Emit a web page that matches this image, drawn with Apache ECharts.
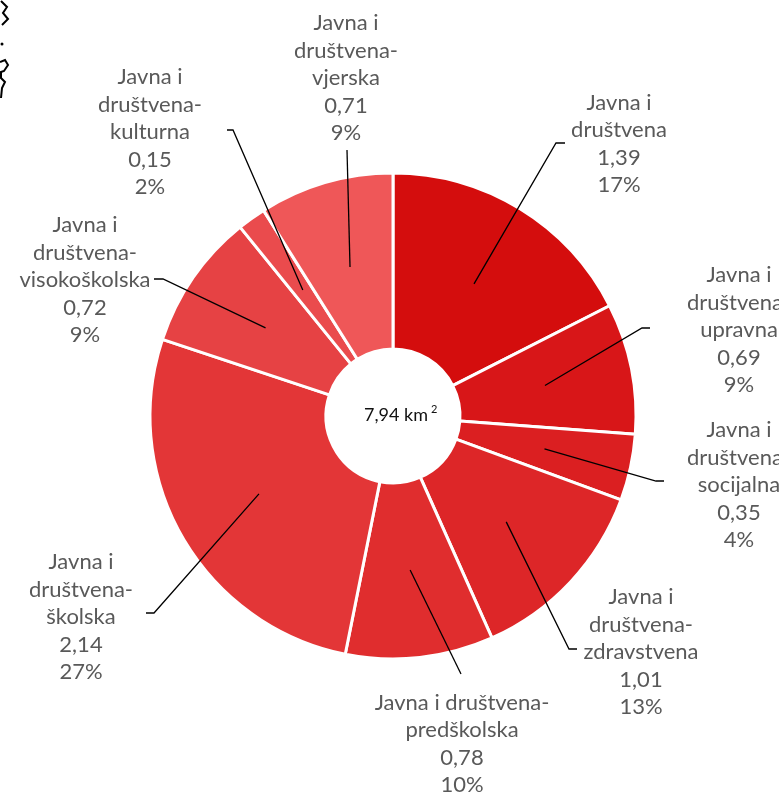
<!DOCTYPE html>
<html><head><meta charset="utf-8">
<script src="https://cdn.jsdelivr.net/npm/echarts@6/dist/echarts.min.js"></script>
<style>html,body{margin:0;padding:0;background:#fff;overflow:hidden}#c{width:779px;height:799px}</style>
</head><body><div id="c"></div>
<script>
// ---- data ----
const categories = [
  'Javna i društvena',
  'Javna i društvena-upravna',
  'Javna i društvena-socijalna',
  'Javna i društvena-zdravstvena',
  'Javna i društvena-predškolska',
  'Javna i društvena-školska',
  'Javna i društvena-visokoškolska',
  'Javna i društvena-kulturna',
  'Javna i društvena-vjerska'
];
const values = [1.39, 0.69, 0.35, 1.01, 0.78, 2.14, 0.72, 0.15, 0.71];
const unit = 'km';

// ---- style / layout ----
const colors = ['#d40d0d','#d81618','#db1f21','#dd2628','#e02d2e','#e33637','#e64244','#ea4b4d','#ef5758'];
const CX = 393, CY = 416, R0 = 67, R = 243;
const FONT = 'Lato';
// label centre (x,y), leader end (ex,ey), horizontal elbow length (bend), wrap style
const labelLayouts = [
  {x: 619, y: 144, ex: 565, ey: 143, bend: -9, wrap: 'narrow'},
  {x: 739, y: 330, ex: 650, ey: 328, bend: -8, wrap: 'narrow'},
  {x: 739, y: 485, ex: 664, ey: 481, bend: -8, wrap: 'narrow'},
  {x: 641, y: 652, ex: 577, ey: 649, bend: -8, wrap: 'narrow'},
  {x: 462, y: 744, ex: 461, ey: 674, bend: 0,  wrap: 'wide'},
  {x: 81,  y: 617, ex: 146, ey: 613, bend: 8,  wrap: 'narrow'},
  {x: 85,  y: 280, ex: 154, ey: 279, bend: 9,  wrap: 'narrow'},
  {x: 150, y: 132, ex: 227, ey: 130, bend: 6,  wrap: 'narrow'},
  {x: 346, y: 78,  ex: 347, ey: 150, bend: 0,  wrap: 'narrow'}
];

function fmtNum(v) { return v.toFixed(2).replace('.', ','); }
function wrapName(name, wrap) {
  const m = name.match(/^(Javna i) (društvena-?)(.*)$/);
  if (!m) return name;
  if (wrap === 'wide') return m[1] + ' ' + m[2] + (m[3] ? '\n' + m[3] : '');
  return m[1] + '\n' + m[2] + (m[3] ? '\n' + m[3] : '');
}

// mid angles of slices (from data) for leader line start
const total = values.reduce((a, b) => a + b, 0);
const midAngles = [];
(function () {
  let acc = 0;
  values.forEach(v => { midAngles.push((acc + v / 2) / total * 2 * Math.PI); acc += v; });
})();

const pieData = categories.map((c, i) => ({name: c, value: values[i]}));

const chart = echarts.init(document.getElementById('c'), null, {renderer: 'canvas'});
chart.setOption({
  backgroundColor: '#ffffff',
  animation: false,
  color: colors,
  series: [{
    type: 'pie',
    z: 2,
    center: [CX, CY],
    radius: [R0, R],
    startAngle: 90,
    clockwise: true,
    avoidLabelOverlap: false,
    itemStyle: {borderColor: '#ffffff', borderWidth: 3},
    emphasis: {disabled: true},
    data: pieData,
    label: {show: false},
    labelLine: {show: false}
  }, {
    // overlay carrying the labels and leader lines on top of the slices
    type: 'pie',
    z: 5,
    silent: true,
    center: [CX, CY],
    radius: [R0, R],
    startAngle: 90,
    clockwise: true,
    avoidLabelOverlap: false,
    percentPrecision: 0,
    itemStyle: {color: 'rgba(0,0,0,0)', borderWidth: 0},
    emphasis: {disabled: true},
    data: pieData,
    label: {
      show: true,
      position: 'outside',
      width: 260,
      overflow: 'none',
      color: '#595959',
      fontFamily: FONT,
      fontSize: 22,
      lineHeight: 27.5,
      align: 'center',
      formatter: p => wrapName(p.name, labelLayouts[p.dataIndex].wrap) + '\n' + fmtNum(p.value) + '\n' + p.percent + '%'
    },
    labelLine: {show: true, length: 0, length2: 0, lineStyle: {color: '#000000', width: 1.3}},
    labelLayout: function (params) {
      const L = labelLayouts[params.dataIndex];
      const a = midAngles[params.dataIndex];
      const rm = (R0 + R) / 2;
      const s = [CX + rm * Math.sin(a), CY - rm * Math.cos(a)];
      return {
        x: L.x, y: L.y, align: 'center', verticalAlign: 'middle',
        labelLinePoints: [s, [L.ex + L.bend, L.ey], [L.ex, L.ey]]
      };
    }
  }],
  graphic: [
    {
      type: 'text', left: CX - 29, top: CY - 12, silent: true, z: 10,
      style: {
        text: '{a|' + fmtNum(total) + ' ' + unit + '}{b|2}',
        rich: {
          a: {fontSize: 18, fontFamily: FONT, fill: '#111111', lineHeight: 22},
          b: {fontSize: 11, fontFamily: FONT, fill: '#111111', verticalAlign: 'top', lineHeight: 12, padding: [0, 0, 0, 3]}
        }
      }
    },
    {
      type: 'polyline', silent: true,
      shape: {points: [[1, 1], [7, 7], [3, 13], [8, 19], [2, 25]]},
      style: {stroke: '#000', lineWidth: 2, fill: null}
    },
    {
      type: 'circle', silent: true, shape: {cx: 2, cy: 44, r: 1.5}, style: {fill: '#000'}
    },
    {
      type: 'polyline', silent: true,
      shape: {points: [[0, 62], [5, 60], [8, 65], [4, 71], [1, 72], [1, 78], [5, 82], [2, 88], [1, 98]]},
      style: {stroke: '#000', lineWidth: 2, fill: null}
    }
  ]
});
</script>
</body></html>
